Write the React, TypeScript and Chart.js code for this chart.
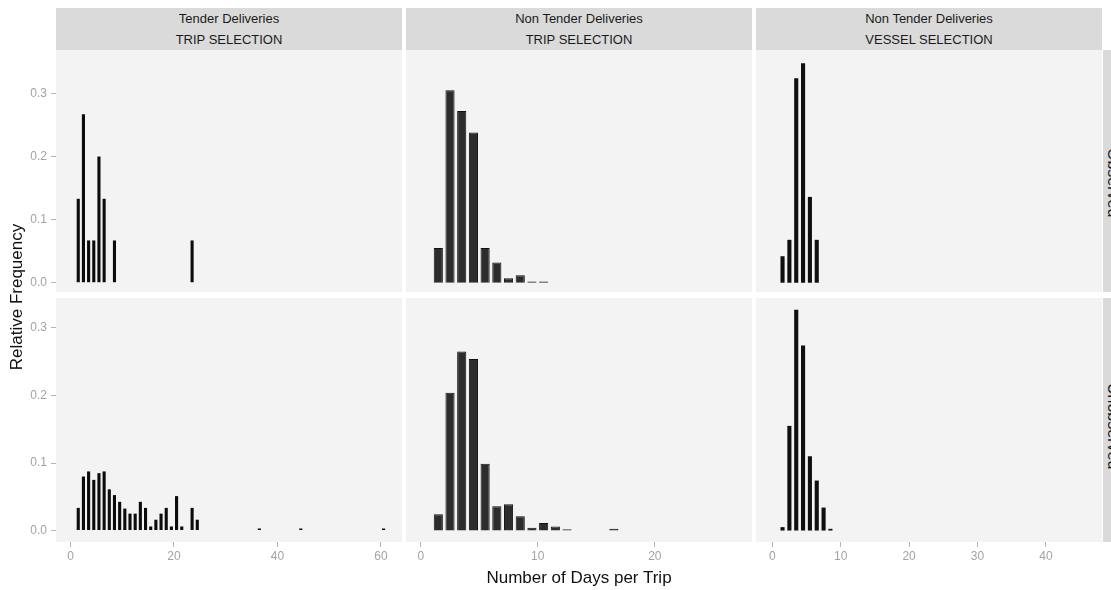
import React, { useEffect, useRef } from "react";
import { Chart, registerables } from "chart.js";

Chart.register(...registerables);

const FONT = '"Liberation Sans", Arial, Helvetica, sans-serif';

// ---- Data (relative frequency of trips by number of days; histogram bins [d, d+1)) ----
const tenderTripObsDays = [1, 2, 3, 4, 5, 6, 8, 23];
const tenderTripObsFreq = [0.133, 0.267, 0.067, 0.067, 0.2, 0.133, 0.067, 0.067];

const tenderTripUnobsDays = [
  1, 2, 3, 4, 5, 6, 7, 8, 9, 10, 11, 12, 13, 14, 15, 16, 17, 18, 19, 20, 21, 23, 24, 36, 44, 60,
];
const tenderTripUnobsFreq = [
  0.0335, 0.08, 0.0875, 0.075, 0.085, 0.0875, 0.061, 0.0525, 0.0425, 0.0325, 0.025, 0.025, 0.0425,
  0.0335, 0.006, 0.016, 0.025, 0.0335, 0.006, 0.051, 0.006, 0.0335, 0.016, 0.003, 0.003, 0.003,
];

const nonTenderTripObsDays = [1, 2, 3, 4, 5, 6, 7, 8, 9, 10];
const nonTenderTripObsFreq = [0.055, 0.305, 0.272, 0.238, 0.055, 0.032, 0.007, 0.012, 0.002, 0.002];

const nonTenderTripUnobsDays = [1, 2, 3, 4, 5, 6, 7, 8, 9, 10, 11, 12, 16];
const nonTenderTripUnobsFreq = [
  0.024, 0.204, 0.265, 0.254, 0.099, 0.036, 0.039, 0.021, 0.004, 0.011, 0.006, 0.002, 0.0025,
];

const nonTenderVesselObsDays = [1, 2, 3, 4, 5, 6];
const nonTenderVesselObsFreq = [0.042, 0.068, 0.324, 0.348, 0.136, 0.068];

const nonTenderVesselUnobsDays = [1, 2, 3, 4, 5, 6, 7, 8];
const nonTenderVesselUnobsFreq = [0.005, 0.155, 0.327, 0.274, 0.11, 0.074, 0.034, 0.0025];

const BIN_CENTER_OFFSET = 0.5;

// ---- Tick labels ----
const yTicks = [0, 0.1, 0.2, 0.3];
const xTicksTender = [0, 20, 40, 60];
const xTicksNonTenderTrip = [0, 10, 20];
const xTicksNonTenderVessel = [0, 10, 20, 30, 40];

const columnTitles = [
  ["Tender Deliveries", "TRIP SELECTION"],
  ["Non Tender Deliveries", "TRIP SELECTION"],
  ["Non Tender Deliveries", "VESSEL SELECTION"],
];
const rowTitles = ["Observed", "Unobserved"];

// ---- Layout ----
const COLS = [
  { left: 56, width: 346 },
  { left: 406, width: 346 },
  { left: 756, width: 346 },
];
const ROWS = [
  { top: 50, height: 242 },
  { top: 298, height: 244 },
];
const Y_AXIS_W = 56;
const X_AXIS_H = 30;
const STRIP_BG = "#dadada";
const PANEL_BG = "#f3f3f3";

const COL_X = [
  { min: -2.8, max: 64.06, ticks: xTicksTender, barPct: 0.6, color: "#0c0c0c", border: "#0c0c0c" },
  { min: -1.26, max: 28.3, ticks: xTicksNonTenderTrip, barPct: 0.78, color: "#2c2c2c", border: "#111111" },
  { min: -2.38, max: 48.2, ticks: xTicksNonTenderVessel, barPct: 0.6, color: "#0f0f0f", border: "#0f0f0f" },
];
const ROW_Y = [
  { min: -0.0147, max: 0.3688 },
  { min: -0.017, max: 0.3444 },
];

const PANEL_DATA = [
  [
    [tenderTripObsDays, tenderTripObsFreq],
    [nonTenderTripObsDays, nonTenderTripObsFreq],
    [nonTenderVesselObsDays, nonTenderVesselObsFreq],
  ],
  [
    [tenderTripUnobsDays, tenderTripUnobsFreq],
    [nonTenderTripUnobsDays, nonTenderTripUnobsFreq],
    [nonTenderVesselUnobsDays, nonTenderVesselUnobsFreq],
  ],
];

const panelBgPlugin = {
  id: "panelBg",
  beforeDraw(chart: any) {
    const { ctx, chartArea: a } = chart;
    ctx.save();
    ctx.fillStyle = PANEL_BG;
    ctx.fillRect(a.left, a.top, a.right - a.left, a.bottom - a.top);
    ctx.restore();
  },
};

function canvasBox(r: number, c: number) {
  const showY = c === 0;
  const showX = r === 1;
  const left = showY ? COLS[c].left - Y_AXIS_W : COLS[c].left;
  const width = COLS[c].width + (showY ? Y_AXIS_W : 0);
  const top = ROWS[r].top;
  const height = ROWS[r].height + (showX ? X_AXIS_H : 0);
  return { left, width, top, height, showX, showY };
}

export default function App() {
  const refs = useRef<(HTMLCanvasElement | null)[]>([]);

  useEffect(() => {
    const charts: Chart[] = [];
    for (let r = 0; r < 2; r++) {
      for (let c = 0; c < 3; c++) {
        const canvas = refs.current[r * 3 + c];
        if (!canvas) continue;
        const { showX, showY } = canvasBox(r, c);
        const [days, freq] = PANEL_DATA[r][c] as [number[], number[]];
        const cx = COL_X[c];
        const ry = ROW_Y[r];
        const chart = new Chart(canvas, {
          type: "bar",
          data: {
            datasets: [
              {
                data: days.map((d, i) => ({ x: d + BIN_CENTER_OFFSET, y: freq[i] })),
                backgroundColor: cx.color,
                borderColor: cx.border,
                borderWidth: c === 1 ? 1 : 0,
                barPercentage: cx.barPct,
                categoryPercentage: 1,
              } as any,
            ],
          },
          options: {
            animation: false,
            responsive: false,
            maintainAspectRatio: false,
            layout: { padding: 0 },
            plugins: { legend: { display: false }, tooltip: { enabled: false } },
            scales: {
              x: {
                type: "linear",
                min: cx.min,
                max: cx.max,
                offset: false,
                display: showX,
                border: { display: false },
                grid: {
                  display: true,
                  offset: false,
                  drawOnChartArea: false,
                  drawTicks: true,
                  tickLength: 5,
                  color: "#b5b5b5",
                  lineWidth: 1,
                },
                ticks: {
                  color: "#a3a3a3",
                  font: { family: FONT, size: 12 },
                  padding: 2,
                  maxRotation: 0,
                  autoSkip: false,
                  callback: (v: any) => String(v),
                },
                afterBuildTicks: (s: any) => {
                  s.ticks = cx.ticks.map((v) => ({ value: v }));
                },
                afterFit: (s: any) => {
                  if (showX) s.height = X_AXIS_H;
                  s.paddingLeft = 0;
                  s.paddingRight = 0;
                },
              },
              y: {
                type: "linear",
                min: ry.min,
                max: ry.max,
                display: showY,
                border: { display: false },
                grid: {
                  display: true,
                  offset: false,
                  drawOnChartArea: false,
                  drawTicks: true,
                  tickLength: 5,
                  color: "#b5b5b5",
                  lineWidth: 1,
                },
                ticks: {
                  color: "#a3a3a3",
                  font: { family: FONT, size: 12 },
                  padding: 4,
                  autoSkip: false,
                  callback: (v: any) => Number(v).toFixed(1),
                },
                afterBuildTicks: (s: any) => {
                  s.ticks = yTicks.map((v) => ({ value: v }));
                },
                afterFit: (s: any) => {
                  if (showY) s.width = Y_AXIS_W;
                  s.paddingTop = 0;
                  s.paddingBottom = 0;
                },
              },
            },
          },
          plugins: [panelBgPlugin],
        } as any);
        charts.push(chart);
      }
    }
    return () => charts.forEach((ch) => ch.destroy());
  }, []);

  const canvases = [];
  for (let r = 0; r < 2; r++) {
    for (let c = 0; c < 3; c++) {
      const b = canvasBox(r, c);
      const idx = r * 3 + c;
      canvases.push(
        <canvas
          key={idx}
          ref={(el) => {
            refs.current[idx] = el;
          }}
          width={b.width}
          height={b.height}
          style={{ position: "absolute", left: b.left, top: b.top, width: b.width, height: b.height }}
        />
      );
    }
  }

  return (
    <div
      style={{
        position: "fixed",
        left: 0,
        top: 0,
        width: 1111,
        height: 590,
        overflow: "hidden",
        background: "#ffffff",
        fontFamily: FONT,
      }}
    >
      {COLS.map((col, c) => (
        <div
          key={"strip" + c}
          style={{
            position: "absolute",
            left: col.left,
            top: 8,
            width: col.width,
            height: 42,
            background: STRIP_BG,
            color: "#1a1a1a",
            fontSize: 13,
            lineHeight: "21px",
            textAlign: "center",
          }}
        >
          <div>{columnTitles[c][0]}</div>
          <div>{columnTitles[c][1]}</div>
        </div>
      ))}
      {ROWS.map((row, r) => (
        <div
          key={"rstrip" + r}
          style={{
            position: "absolute",
            left: 1103,
            top: row.top,
            width: 22,
            height: row.height,
            background: STRIP_BG,
            display: "flex",
            alignItems: "center",
            justifyContent: "flex-start",
          }}
        >
          <div
            style={{
              writingMode: "vertical-rl",
              fontSize: 16,
              lineHeight: "20px",
              width: 20,
              color: "#1a1a1a",
              marginLeft: 0,
              marginTop: r === 0 ? 24 : 12,
            }}
          >
            {rowTitles[r]}
          </div>
        </div>
      ))}
      {canvases}
      <div
        style={{
          position: "absolute",
          left: 17 - 150,
          top: 297 - 11,
          width: 300,
          height: 22,
          lineHeight: "22px",
          textAlign: "center",
          fontSize: 17,
          color: "#111",
          transform: "rotate(-90deg)",
        }}
      >
        Relative Frequency
      </div>
      <div
        style={{
          position: "absolute",
          left: 579 - 200,
          top: 567,
          width: 400,
          height: 22,
          lineHeight: "22px",
          textAlign: "center",
          fontSize: 17,
          color: "#111",
        }}
      >
        Number of Days per Trip
      </div>
    </div>
  );
}
